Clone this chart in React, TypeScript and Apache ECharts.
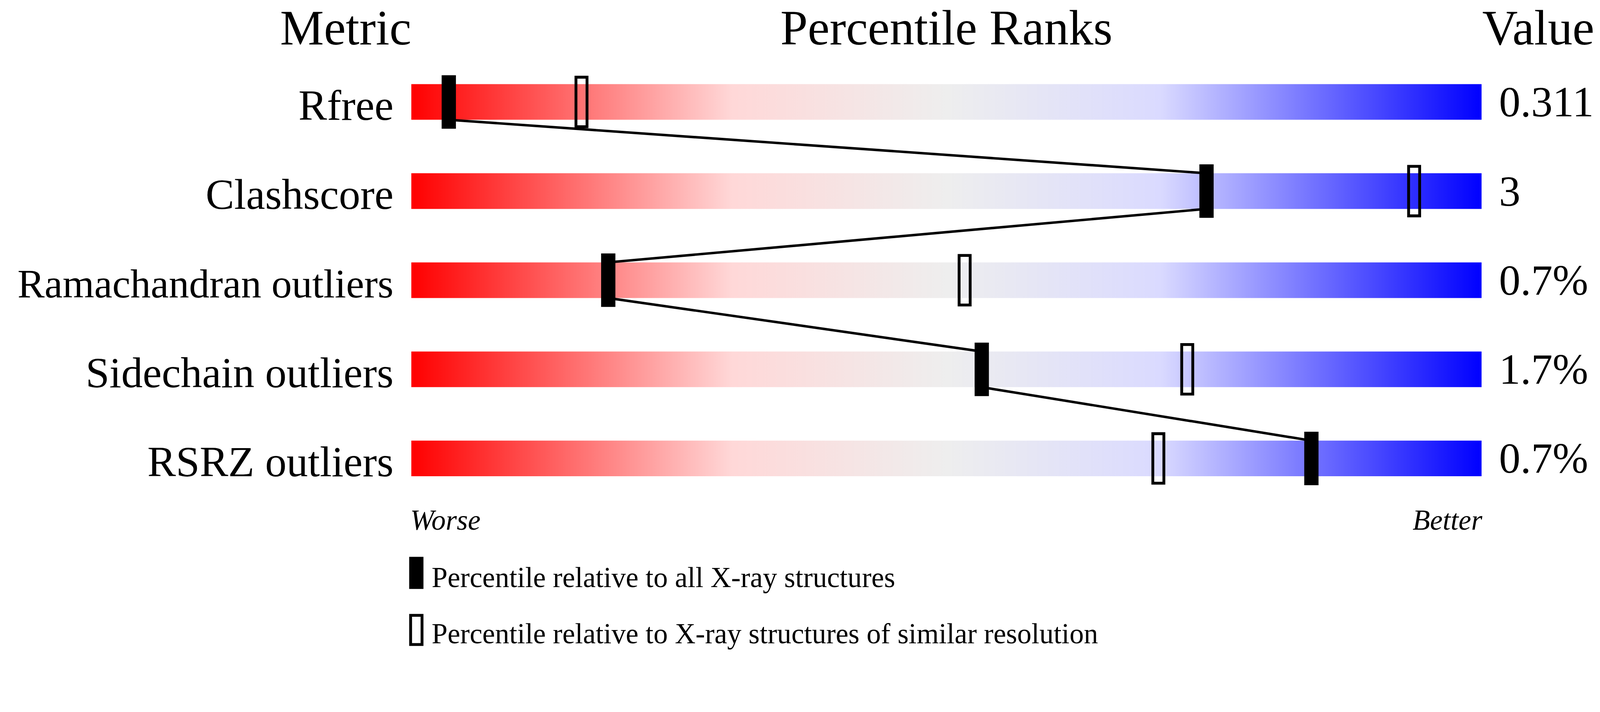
import React, { useEffect, useRef } from "react";
import * as echarts from "echarts";

const METRICS = ["Rfree", "Clashscore", "Ramachandran outliers", "Sidechain outliers", "RSRZ outliers"];
const VALUES = ["0.311", "3", "0.7%", "1.7%", "0.7%"];
const PCT_ALL = [3.5, 74.3, 18.4, 53.3, 84.1];
const PCT_RES = [15.9, 93.7, 51.7, 72.5, 69.8];
const FULL = [100, 100, 100, 100, 100];
const TITLES = ["Metric", "Percentile Ranks", "Value"];
const ENDS = ["Worse", "Better"];
const LEGEND = ["Percentile relative to all X-ray structures", "Percentile relative to X-ray structures of similar resolution"];

const FONT = "'Times New Roman', 'Liberation Serif', serif";

export default function App() {
  const ref = useRef<HTMLDivElement>(null);
  useEffect(() => {
    const chart = echarts.init(ref.current!, null, { renderer: "svg" });
    const W = chart.getWidth();
    const H = chart.getHeight();
    const k = Math.min(W / 4485, H / 1824);
    const p = (n: number) => n * k;
    const BAR_H = p(100);
    const grad = new echarts.graphic.LinearGradient(0, 0, 1, 0, [
      { offset: 0, color: "#ff0000" },
      { offset: 0.3, color: "#ffd8d8" },
      { offset: 0.5, color: "#eeeeee" },
      { offset: 0.7, color: "#dadaff" },
      { offset: 1, color: "#0000ff" },
    ]);
    const segs: number[][] = [];
    for (let i = 0; i < PCT_ALL.length - 1; i++) segs.push([PCT_ALL[i], i, PCT_ALL[i + 1], i + 1]);
    const markerItem = (w: number, h: number, style: any) => (params: any, api: any) => {
      const c = api.coord([api.value(0), api.value(1)]);
      return { type: "rect", shape: { x: c[0] - w / 2, y: c[1] - h / 2, width: w, height: h }, style };
    };
    const titleText = (text: string, x: number, align: string) => ({
      type: "text",
      x: p(x),
      y: p(78),
      style: { text, font: `${p(138)}px ${FONT}`, fill: "#000", align, verticalAlign: "middle" },
    });
    chart.setOption({
      animation: false,
      backgroundColor: "#ffffff",
      grid: { left: p(1153), right: W - p(4153), top: p(161), bottom: H - p(1411), containLabel: false },
      xAxis: { type: "value", min: 0, max: 100, show: false },
      yAxis: [
        {
          type: "category",
          data: METRICS,
          inverse: true,
          axisLine: { show: false },
          axisTick: { show: false },
          splitLine: { show: false },
          axisLabel: {
            margin: p(50),
            color: "#000",
            fontSize: p(120),
            fontFamily: FONT,
            padding: [p(19), 0, 0, 0],
            formatter: (v: string) => (v === "Ramachandran outliers" ? `{s|${v}}` : v),
            rich: { s: { fontSize: p(114), fontFamily: FONT, color: "#000" } },
          },
        },
        {
          type: "category",
          data: VALUES,
          inverse: true,
          position: "right",
          axisLine: { show: false },
          axisTick: { show: false },
          splitLine: { show: false },
          axisLabel: {
            margin: p(49),
            color: "#000",
            fontSize: p(120),
            fontFamily: FONT,
            align: "left",
            padding: [p(19), 0, 0, 0],
          },
        },
      ],
      series: [
        {
          type: "bar",
          data: FULL,
          barWidth: BAR_H,
          itemStyle: { color: grad },
          silent: true,
          z: 1,
        },
        {
          type: "custom",
          data: segs,
          encode: { x: [0, 2], y: [1, 3] },
          silent: true,
          z: 2,
          renderItem: (params: any, api: any) => {
            const a = api.coord([api.value(0), api.value(1)]);
            const b = api.coord([api.value(2), api.value(3)]);
            return {
              type: "line",
              shape: { x1: a[0], y1: a[1] + BAR_H / 2, x2: b[0], y2: b[1] - BAR_H / 2 },
              style: { stroke: "#000", lineWidth: p(7) },
            };
          },
        },
        {
          type: "custom",
          data: PCT_RES.map((v, i) => [v, i]),
          encode: { x: 0, y: 1 },
          silent: true,
          z: 3,
          renderItem: markerItem(p(31), p(139), { fill: "none", stroke: "#000", lineWidth: p(8) }),
        },
        {
          type: "custom",
          data: PCT_ALL.map((v, i) => [v, i]),
          encode: { x: 0, y: 1 },
          silent: true,
          z: 4,
          renderItem: markerItem(p(40), p(150), { fill: "#000" }),
        },
      ],
      graphic: [
        titleText(TITLES[0], 1153, "right"),
        titleText(TITLES[1], 2653, "center"),
        titleText(TITLES[2], 4155, "left"),
        { type: "text", x: p(1150), y: p(1459), style: { text: ENDS[0], font: `italic ${p(80)}px ${FONT}`, fill: "#000", align: "left", verticalAlign: "middle" } },
        { type: "text", x: p(4155), y: p(1459), style: { text: ENDS[1], font: `italic ${p(80)}px ${FONT}`, fill: "#000", align: "right", verticalAlign: "middle" } },
        { type: "rect", shape: { x: p(1147), y: p(1562), width: p(40), height: p(90) }, style: { fill: "#000" } },
        { type: "text", x: p(1210), y: p(1620), style: { text: LEGEND[0], font: `${p(80)}px ${FONT}`, fill: "#000", align: "left", verticalAlign: "middle" } },
        { type: "rect", shape: { x: p(1151), y: p(1726), width: p(32), height: p(82) }, style: { fill: "none", stroke: "#000", lineWidth: p(8) } },
        { type: "text", x: p(1210), y: p(1778), style: { text: LEGEND[1], font: `${p(80)}px ${FONT}`, fill: "#000", align: "left", verticalAlign: "middle" } },
      ],
    });
    return () => chart.dispose();
  }, []);
  return <div ref={ref} style={{ position: "fixed", left: 0, top: 0, width: "100vw", height: "100vh", background: "#fff" }} />;
}
